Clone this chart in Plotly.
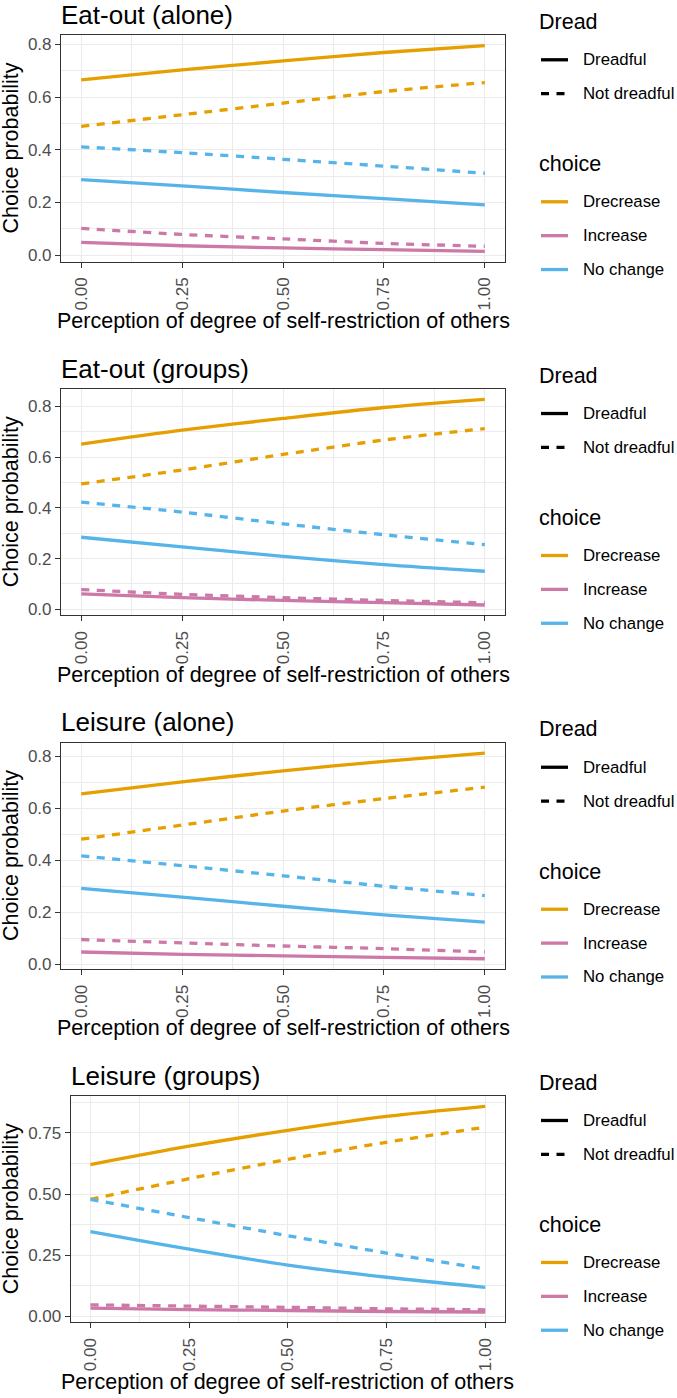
import plotly.graph_objects as go

# ---------------- data ----------------
x_vals = [0.0, 0.25, 0.5, 0.75, 1.0]
x_tick_vals = [0.0, 0.25, 0.5, 0.75, 1.0]
x_tick_text = ["0.00", "0.25", "0.50", "0.75", "1.00"]

panel_titles = ["Eat-out (alone)", "Eat-out (groups)", "Leisure (alone)", "Leisure (groups)"]
choices = ["Drecrease", "Increase", "No change"]
dread_levels = ["Dreadful", "Not dreadful"]

# Eat-out (alone)
eat_alone_decrease_dreadful = [0.665, 0.703, 0.737, 0.769, 0.795]
eat_alone_decrease_notdreadful = [0.489, 0.533, 0.577, 0.621, 0.655]
eat_alone_increase_dreadful = [0.049, 0.036, 0.028, 0.021, 0.015]
eat_alone_increase_notdreadful = [0.102, 0.079, 0.062, 0.045, 0.034]
eat_alone_nochange_dreadful = [0.287, 0.263, 0.238, 0.215, 0.191]
eat_alone_nochange_notdreadful = [0.411, 0.389, 0.364, 0.338, 0.311]

# Eat-out (groups)
eat_groups_decrease_dreadful = [0.651, 0.706, 0.752, 0.795, 0.827]
eat_groups_decrease_notdreadful = [0.494, 0.549, 0.610, 0.667, 0.712]
eat_groups_increase_dreadful = [0.061, 0.046, 0.035, 0.026, 0.017]
eat_groups_increase_notdreadful = [0.078, 0.059, 0.046, 0.035, 0.026]
eat_groups_nochange_dreadful = [0.284, 0.246, 0.209, 0.176, 0.150]
eat_groups_nochange_notdreadful = [0.422, 0.383, 0.337, 0.294, 0.255]

# Leisure (alone)
leisure_alone_decrease_dreadful = [0.656, 0.702, 0.745, 0.781, 0.813]
leisure_alone_decrease_notdreadful = [0.482, 0.536, 0.590, 0.638, 0.682]
leisure_alone_increase_dreadful = [0.048, 0.039, 0.033, 0.027, 0.022]
leisure_alone_increase_notdreadful = [0.096, 0.083, 0.071, 0.061, 0.048]
leisure_alone_nochange_dreadful = [0.293, 0.259, 0.224, 0.191, 0.163]
leisure_alone_nochange_notdreadful = [0.418, 0.380, 0.341, 0.301, 0.265]

# Leisure (groups)
leisure_groups_decrease_dreadful = [0.621, 0.696, 0.761, 0.818, 0.859]
leisure_groups_decrease_notdreadful = [0.479, 0.563, 0.642, 0.712, 0.774]
leisure_groups_increase_dreadful = [0.034, 0.028, 0.024, 0.020, 0.018]
leisure_groups_increase_notdreadful = [0.047, 0.042, 0.037, 0.031, 0.027]
leisure_groups_nochange_dreadful = [0.347, 0.275, 0.210, 0.160, 0.119]
leisure_groups_nochange_notdreadful = [0.479, 0.404, 0.330, 0.259, 0.194]

y_ticks_a = [0.0, 0.2, 0.4, 0.6, 0.8]
y_ticks_a_text = ["0.0", "0.2", "0.4", "0.6", "0.8"]
y_minor_a = [0.1, 0.3, 0.5, 0.7]
y_ticks_b = [0.0, 0.25, 0.5, 0.75]
y_ticks_b_text = ["0.00", "0.25", "0.50", "0.75"]
y_minor_b = [0.125, 0.375, 0.625, 0.875]
x_minor = [0.125, 0.375, 0.625, 0.875]

panels = [
    [[eat_alone_decrease_dreadful, eat_alone_decrease_notdreadful],
     [eat_alone_increase_dreadful, eat_alone_increase_notdreadful],
     [eat_alone_nochange_dreadful, eat_alone_nochange_notdreadful]],
    [[eat_groups_decrease_dreadful, eat_groups_decrease_notdreadful],
     [eat_groups_increase_dreadful, eat_groups_increase_notdreadful],
     [eat_groups_nochange_dreadful, eat_groups_nochange_notdreadful]],
    [[leisure_alone_decrease_dreadful, leisure_alone_decrease_notdreadful],
     [leisure_alone_increase_dreadful, leisure_alone_increase_notdreadful],
     [leisure_alone_nochange_dreadful, leisure_alone_nochange_notdreadful]],
    [[leisure_groups_decrease_dreadful, leisure_groups_decrease_notdreadful],
     [leisure_groups_increase_dreadful, leisure_groups_increase_notdreadful],
     [leisure_groups_nochange_dreadful, leisure_groups_nochange_notdreadful]],
]
panel_yticks = [(y_ticks_a, y_ticks_a_text, y_minor_a)] * 3 + [(y_ticks_b, y_ticks_b_text, y_minor_b)]

# ---------------- styling / layout ----------------
W, H = 677, 1398
FONT = "Liberation Sans, Arial, Helvetica, sans-serif"
COLORS = {"Drecrease": "#E69F00", "Increase": "#CC79A7", "No change": "#56B4E9"}
DASHES = {"Dreadful": "solid", "Not dreadful": "8px,7.5px"}
LW = 3.3
GRID = "#EBEBEB"
BORDER = "#333333"
TICKCOL = "#4D4D4D"

box_left = [61, 61, 61, 70.7]
box_right = 505
box_top = [35.5, 390.5, 745.5, 1100]
box_h = 227


def fx(px):
    return px / W


def fy(py):
    return 1 - py / H


fig = go.Figure()
annotations = []
shapes = []

for k in range(4):
    xa = "x" if k == 0 else f"x{k+1}"
    ya = "y" if k == 0 else f"y{k+1}"
    all_vals = []
    for ci, ch in enumerate(choices):
        for di, dl in enumerate(dread_levels):
            vals = panels[k][ci][di]
            all_vals += vals
            fig.add_trace(go.Scatter(
                x=x_vals, y=vals, mode="lines", xaxis=xa, yaxis=ya,
                line=dict(color=COLORS[ch], width=LW, dash=DASHES[dl], shape="spline", smoothing=0.8),
                showlegend=False, name=f"{ch} / {dl}", hoverinfo="skip"))
    lo, hi = min(all_vals), max(all_vals)
    pad = 0.05 * (hi - lo)
    yr = [lo - pad, hi + pad]
    top = box_top[k]
    bot = top + box_h
    left = box_left[k]
    tv, tt, tm = panel_yticks[k]
    common = dict(showline=True, mirror=True, linecolor=BORDER, linewidth=1.1,
                  ticks="outside", ticklen=5, tickwidth=1.1, tickcolor=BORDER,
                  showgrid=True, gridcolor=GRID, gridwidth=1.3, zeroline=False,
                  tickfont=dict(family=FONT, size=17, color=TICKCOL))
    fig.update_layout(**{
        ("xaxis" if k == 0 else f"xaxis{k+1}"): dict(
            domain=[fx(left), fx(box_right)], anchor=ya, range=[-0.05, 1.05],
            tickmode="array", tickvals=x_tick_vals, ticktext=x_tick_text, tickangle=-90,
            minor=dict(tickvals=x_minor, showgrid=True, gridcolor=GRID, gridwidth=0.8),
            ticklabelstandoff=3, **common),
        ("yaxis" if k == 0 else f"yaxis{k+1}"): dict(
            domain=[fy(bot), fy(top)], anchor=xa, range=yr,
            tickmode="array", tickvals=tv, ticktext=tt,
            minor=dict(tickvals=tm, showgrid=True, gridcolor=GRID, gridwidth=0.8),
            **common),
    })
    # panel title
    annotations.append(dict(text=panel_titles[k], x=fx(left - 2), y=fy(top - 20.5), xref="paper", yref="paper",
                            xanchor="left", yanchor="middle", showarrow=False,
                            font=dict(family=FONT, size=26, color="black")))
    # axis titles
    annotations.append(dict(text="Choice probability", x=fx(11), y=fy((top + bot) / 2), xref="paper", yref="paper",
                            xanchor="center", yanchor="middle", textangle=-90, showarrow=False,
                            font=dict(family=FONT, size=21.5, color="black")))
    annotations.append(dict(text="Perception of degree of self-restriction of others", x=fx((left + box_right) / 2),
                            y=fy(bot + 59.5), xref="paper", yref="paper", xanchor="center", yanchor="middle",
                            showarrow=False, font=dict(family=FONT, size=21.5, color="black")))
    # legends
    leg = [("title", "Dread", None, None, -13.5),
           ("item", "Dreadful", "black", "solid", 24.5),
           ("item", "Not dreadful", "black", DASHES["Not dreadful"], 58.5),
           ("title", "choice", None, None, 129.5),
           ("item", "Drecrease", COLORS["Drecrease"], "solid", 167),
           ("item", "Increase", COLORS["Increase"], "solid", 201),
           ("item", "No change", COLORS["No change"], "solid", 235)]
    for kind, label, col, dash, dy in leg:
        yy = fy(top + dy)
        if kind == "title":
            annotations.append(dict(text=label, x=fx(536.5), y=yy, xref="paper", yref="paper",
                                    xanchor="left", yanchor="middle", showarrow=False,
                                    font=dict(family=FONT, size=21.5, color="black")))
        else:
            shapes.append(dict(type="line", xref="paper", yref="paper", x0=fx(541), x1=fx(568), y0=yy, y1=yy,
                               line=dict(color=col, width=LW, dash=dash)))
            annotations.append(dict(text=label, x=fx(581), y=yy, xref="paper", yref="paper",
                                    xanchor="left", yanchor="middle", showarrow=False,
                                    font=dict(family=FONT, size=16.8, color="black")))

fig.update_layout(width=W, height=H, margin=dict(l=0, r=0, t=0, b=0),
                  paper_bgcolor="white", plot_bgcolor="white",
                  annotations=annotations, shapes=shapes, showlegend=False,
                  font=dict(family=FONT))

fig.write_html("out.html", config={"displayModeBar": False},
               post_script="document.body.style.margin='0px';document.body.style.overflow='hidden';")
